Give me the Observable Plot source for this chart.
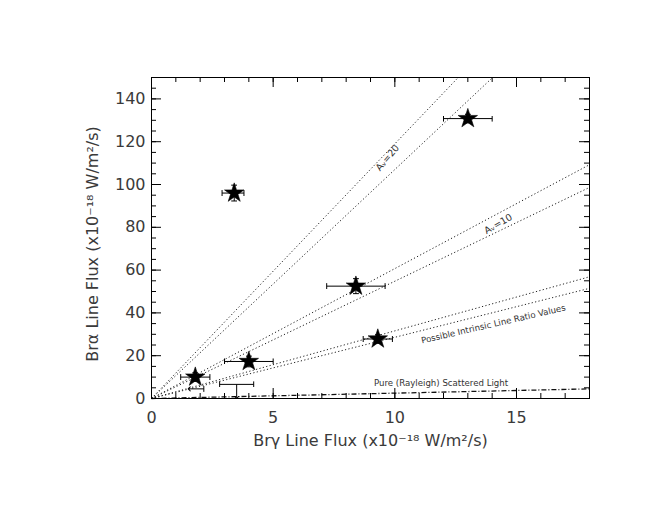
<!DOCTYPE html>
<html>
<head>
<meta charset="utf-8">
<script src="https://cdn.jsdelivr.net/npm/d3@7"></script>
<script src="https://cdn.jsdelivr.net/npm/@observablehq/plot@0.6"></script>
<style>
  html, body { margin: 0; padding: 0; background: #fff; }
  #chart svg { display: block; }
</style>
</head>
<body>
<div id="chart"></div>
<script>
// ---- data ----
const starX  = [1.8, 3.4, 4.0, 8.4, 9.3, 13.0];
const starY  = [10, 96, 17.3, 52.5, 27.8, 130.8];
const xLo    = [1.2, 2.9, 3.0, 7.2, 8.7, 12.0];
const xHi    = [2.4, 3.8, 5.0, 9.6, 9.9, 14.0];
const yErr   = [2, 3.7, 2.5, 3.5, 2, 2];

// upper limit (down arrow) and x-limit (left arrow)
const downLimX = [3.5], downLimY = [6.6], downLimXLo = [2.8], downLimXHi = [4.2], downLimTo = [0.5];
const leftLimX = [2.15], leftLimY = [4.5], leftLimTo = [1.55];

// reference lines through the origin (slope = Bra/Brg)
const lineSlopes = [11.9, 10.7, 6.07, 5.48, 3.16, 2.86];
const rayleighSlope = [0.25];

// line labels
const labelText = ["Aᵥ=20", "Aᵥ=10", "Possible Intrinsic Line Ratio Values", "Pure (Rayleigh) Scattered Light"];
const labelX = [9.7, 14.25, 14.05, 11.9];
const labelY = [112.5, 81.6, 34.7, 7.0];
const labelAngle = [-50, -30, -13, 0];

const xMajor = [0, 5, 10, 15];
const yMajor = [0, 20, 40, 60, 80, 100, 120, 140];
const xMinor = d3.range(0, 19, 1);
const yMinor = d3.range(0, 151, 5);

const xTitle = "Brγ Line Flux (x10⁻¹⁸ W/m²/s)";
const yTitle = "Brα Line Flux (x10⁻¹⁸ W/m²/s)";

// ---- build tables ----
const xMax = 18, yMax = 150;
const stars = starX.map((x, i) => ({x, y: starY[i], lo: xLo[i], hi: xHi[i], e: yErr[i]}));
const lines = lineSlopes.map(s => ({s, xe: Math.min(xMax, yMax / s)}));
const rayleigh = rayleighSlope.map(s => ({s, xe: Math.min(xMax, yMax / s)}));
const labels = labelText.map((t, i) => ({t, x: labelX[i], y: labelY[i], a: labelAngle[i]}));
const downLims = downLimX.map((x, i) => ({x, y: downLimY[i], lo: downLimXLo[i], hi: downLimXHi[i], to: downLimTo[i]}));
const leftLims = leftLimX.map((x, i) => ({x, y: leftLimY[i], to: leftLimTo[i]}));

const W = 667, H = 510;
const mL = 151, mR = 78, mT = 77, mB = 112;
const pw = W - mL - mR, ph = H - mT - mB;
const font = "DejaVu Sans, sans-serif";
const ink = "#222";
const txt = "#3a3a3a";

const chart = Plot.plot({
  width: W, height: H,
  marginLeft: mL, marginRight: mR, marginTop: mT, marginBottom: mB,
  style: {fontFamily: font, fontSize: "16px", color: ink, background: "#fff"},
  x: {domain: [0, xMax]},
  y: {domain: [0, yMax]},
  marks: [
    // reference lines
    Plot.link(lines, {x1: 0, y1: 0, x2: d => d.xe, y2: d => d.xe * d.s,
      stroke: ink, strokeWidth: 1, strokeDasharray: "1.2,2.3"}),
    Plot.link(rayleigh, {x1: 0, y1: 0, x2: d => d.xe, y2: d => d.xe * d.s,
      stroke: "#111", strokeWidth: 1.3, strokeDasharray: "5,2,1,2"}),
    // line labels
    ...labels.map(l => Plot.text([l], {x: "x", y: "y", text: "t", rotate: l.a,
      fontSize: l.t.length > 8 ? 8.6 : 9.5, fill: "#333", textAnchor: "middle", lineAnchor: "middle"})),
    // error bars
    Plot.link(stars, {x1: "lo", x2: "hi", y1: "y", y2: "y", stroke: "black", strokeWidth: 1,
      markerStart: "tick", markerEnd: "tick"}),
    Plot.link(stars, {x1: "x", x2: "x", y1: d => d.y - d.e, y2: d => d.y + d.e, stroke: "black", strokeWidth: 1,
      markerStart: "tick", markerEnd: "tick"}),
    // limits
    Plot.link(downLims, {x1: "lo", x2: "hi", y1: "y", y2: "y", stroke: "black", markerStart: "tick", markerEnd: "tick"}),
    Plot.link(downLims, {x1: "x", x2: "x", y1: "y", y2: "to", stroke: "black", markerEnd: "arrow"}),
    Plot.link(leftLims, {x1: "x", x2: "to", y1: "y", y2: "y", stroke: "black", markerStart: "tick", markerEnd: "arrow"}),
    // stars
    Plot.dot(stars, {x: "x", y: "y", symbol: "star", r: 6.1, fill: "black", stroke: "black", strokeWidth: 0.6}),
    // frame and inward ticks on all four sides
    Plot.frame({stroke: "black", strokeWidth: 1}),
    Plot.tickX(xMajor, {x: d => d, insetTop: ph - 10, stroke: "black"}),
    Plot.tickX(xMinor, {x: d => d, insetTop: ph - 5, stroke: "black"}),
    Plot.tickX(xMajor, {x: d => d, insetBottom: ph - 10, stroke: "black"}),
    Plot.tickX(xMinor, {x: d => d, insetBottom: ph - 5, stroke: "black"}),
    Plot.tickY(yMajor, {y: d => d, insetRight: pw - 10, stroke: "black"}),
    Plot.tickY(yMinor, {y: d => d, insetRight: pw - 5, stroke: "black"}),
    Plot.tickY(yMajor, {y: d => d, insetLeft: pw - 10, stroke: "black"}),
    Plot.tickY(yMinor, {y: d => d, insetLeft: pw - 5, stroke: "black"}),
    // tick labels
    Plot.axisX({ticks: xMajor, tickSize: 0, tickPadding: 13, label: null, fill: txt}),
    Plot.axisY({ticks: yMajor, tickSize: 0, tickPadding: 6, label: null, fill: txt}),
    // axis titles
    Plot.text([xTitle], {frameAnchor: "bottom", text: d => d, dy: 42, fontSize: 16, fill: txt,
      textAnchor: "middle", lineAnchor: "middle"}),
    Plot.text([yTitle], {frameAnchor: "left", text: d => d, dx: -59, dy: 6, rotate: -90, fontSize: 16, fill: txt,
      textAnchor: "middle", lineAnchor: "middle"})
  ]
});
document.getElementById("chart").appendChild(chart);
</script>
</body>
</html>
